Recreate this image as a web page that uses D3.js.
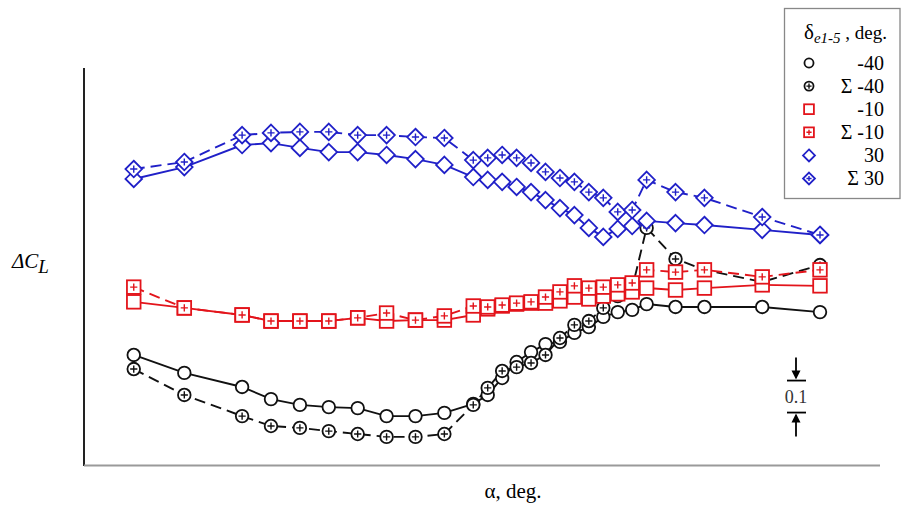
<!DOCTYPE html>
<html><head><meta charset="utf-8">
<script src="https://cdn.jsdelivr.net/npm/d3@7"></script>
<style>body{margin:0;background:#fff}svg{display:block}text{font-family:"Liberation Serif","DejaVu Serif",serif}</style>
</head><body><div id="chart"></div>
<script>
// α, deg. (shared by all series)
const alpha = [-9.5,-6,-2,0,2,4,6,8,10,12,14,15,16,17,18,19,20,21,22,23,24,25,26,28,30,34,38];
// ΔC_L values (relative, scale bar = 0.1)
const cl_m40   = [0.347,0.291,0.247,0.209,0.191,0.184,0.181,0.156,0.156,0.166,0.194,0.222,0.275,0.325,0.356,0.381,0.388,0.416,0.434,0.466,0.481,0.488,0.506,0.497,0.497,0.497,0.481];
const cl_sm40  = [0.303,0.222,0.156,0.125,0.119,0.109,0.100,0.091,0.091,0.100,0.191,0.244,0.297,0.309,0.322,0.347,0.400,0.441,0.453,0.494,0.531,0.556,0.744,0.647,0.613,0.575,0.628];
const cl_m10   = [0.513,0.494,0.472,0.453,0.453,0.453,0.463,0.453,0.456,0.456,0.472,0.491,0.500,0.506,0.509,0.509,0.516,0.528,0.522,0.531,0.538,0.544,0.556,0.550,0.556,0.566,0.563];
const cl_sm10  = [0.559,0.494,0.472,0.453,0.453,0.453,0.463,0.478,0.456,0.469,0.500,0.497,0.503,0.509,0.513,0.528,0.544,0.563,0.556,0.559,0.566,0.572,0.613,0.606,0.613,0.591,0.613];
const cl_p30   = [0.897,0.934,1.003,1.009,0.994,0.981,0.981,0.972,0.959,0.941,0.903,0.894,0.888,0.872,0.856,0.831,0.806,0.784,0.744,0.716,0.741,0.750,0.766,0.759,0.753,0.738,0.722];
const cl_sp30  = [0.928,0.950,1.034,1.041,1.044,1.044,1.034,1.034,1.028,1.025,0.956,0.963,0.972,0.963,0.947,0.919,0.900,0.888,0.856,0.838,0.794,0.800,0.894,0.856,0.838,0.778,0.722];
const legendLabels = ["-40","\u03A3 -40","-10","\u03A3 -10","30","\u03A3 30"];
const seriesValues = [cl_m40, cl_sm40, cl_m10, cl_sm10, cl_p30, cl_sp30];
const seriesColors = ["#111111","#111111","#e3141b","#e3141b","#2020c8","#2020c8"];
const seriesShapes = ["circle","circle","square","square","diamond","diamond"];
const seriesSigma  = [false,true,false,true,false,true];

const W = 902, H = 510;
const svg = d3.select("#chart").append("svg").attr("width", W).attr("height", H);
const x = d3.scaleLinear().domain([0, 38]).range([271, 820]);
const y = d3.scaleLinear().domain([0, 1.24375]).range([466, 68]);

// axes (no ticks in original)
svg.append("line").attr("x1",84).attr("x2",84).attr("y1",68).attr("y2",466).attr("stroke","#222").attr("stroke-width",2);
svg.append("line").attr("x1",84).attr("x2",880).attr("y1",465.5).attr("y2",465.5).attr("stroke","#9a9a9a").attr("stroke-width",2);

function drawMarker(g, shape, cx, cy, color, sigma, s) {
  if (shape === "circle") {
    g.append("circle").attr("cx",cx).attr("cy",cy).attr("r",6.3*s).attr("fill","#fff").attr("stroke",color).attr("stroke-width",1.8);
  } else if (shape === "square") {
    const a = 6.8*s;
    g.append("rect").attr("x",cx-a).attr("y",cy-a).attr("width",2*a).attr("height",2*a).attr("fill","#fff").attr("stroke",color).attr("stroke-width",1.8);
  } else {
    const a = 8.3*s;
    g.append("path").attr("d",`M${cx},${cy-a}L${cx+a},${cy}L${cx},${cy+a}L${cx-a},${cy}Z`).attr("fill","#fff").attr("stroke",color).attr("stroke-width",1.8);
  }
  if (sigma) {
    const p = 3.6*s;
    g.append("path").attr("d",`M${cx-p},${cy}H${cx+p}M${cx},${cy-p}V${cy+p}`).attr("stroke",color).attr("stroke-width",1.4).attr("fill","none");
  }
}

const line = d3.line().x((d,i)=>x(alpha[i])).y(d=>y(d));
const gl = svg.append("g");
seriesValues.forEach((vals,k)=>{
  gl.append("path").datum(vals).attr("d",line).attr("fill","none")
    .attr("stroke",seriesColors[k]).attr("stroke-width",1.9)
    .attr("stroke-dasharray", seriesSigma[k] ? "11,6" : null);
});
const gm = svg.append("g");
seriesValues.forEach((vals,k)=>{
  vals.forEach((v,i)=> drawMarker(gm, seriesShapes[k], x(alpha[i]), y(v), seriesColors[k], seriesSigma[k], 1));
});

// axis titles
const yl = svg.append("text").attr("x",12).attr("y",268).attr("font-size",21).attr("font-style","italic");
yl.append("tspan").text("\u0394C");
yl.append("tspan").attr("dy",5).attr("font-size",19).text("L");
svg.append("text").attr("x",513).attr("y",498).attr("text-anchor","middle").attr("font-size",21).text("\u03B1, deg.");

// scale bar 0.1
const sbTop = 0.267, sbX = 796;
const sb = svg.append("g").attr("stroke","#000").attr("stroke-width",1.8).attr("fill","#000");
const yT = y(sbTop), yB = y(sbTop - 0.1);
sb.append("line").attr("x1",sbX).attr("x2",sbX).attr("y1",yT-23).attr("y2",yT-3);
sb.append("path").attr("d",`M${sbX-4.5},${yT-10}L${sbX+4.5},${yT-10}L${sbX},${yT-1}Z`).attr("stroke","none");
sb.append("line").attr("x1",sbX-9).attr("x2",sbX+10).attr("y1",yT).attr("y2",yT);
sb.append("line").attr("x1",sbX-9).attr("x2",sbX+10).attr("y1",yB).attr("y2",yB);
sb.append("path").attr("d",`M${sbX-4.5},${yB+10}L${sbX+4.5},${yB+10}L${sbX},${yB+1}Z`).attr("stroke","none");
sb.append("line").attr("x1",sbX).attr("x2",sbX).attr("y1",yB+3).attr("y2",yB+24);
svg.append("text").attr("x",sbX).attr("y",(yT+yB)/2+6).attr("text-anchor","middle").attr("font-size",18).attr("fill","#333").text("0.1");

// legend
const lg = svg.append("g");
lg.append("rect").attr("x",784.5).attr("y",8.5).attr("width",115.5).attr("height",190).attr("fill","#fff").attr("stroke","#888").attr("stroke-width",1.3);
const lt = lg.append("text").attr("x",804).attr("y",39).attr("font-size",21);
lt.append("tspan").text("\u03B4");
lt.append("tspan").attr("dy",4).attr("font-size",15).attr("font-style","italic").text("e1-5");
lt.append("tspan").attr("dy",-4).attr("font-size",19).text(" , deg.");
legendLabels.forEach((lab,k)=>{
  const cy = 63 + k*23.1;
  drawMarker(lg, seriesShapes[k], 809, cy, seriesColors[k], seriesSigma[k], 0.72);
  lg.append("text").attr("x",884).attr("y",cy+6.5).attr("text-anchor","end").attr("font-size",20).text(lab);
});
</script></body></html>
